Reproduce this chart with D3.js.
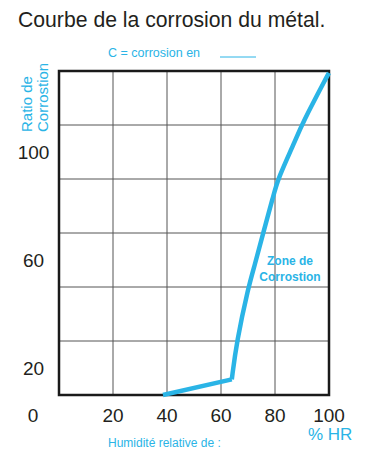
<!DOCTYPE html>
<html>
<head>
<meta charset="utf-8">
<script src="https://cdn.jsdelivr.net/npm/d3@7"></script>
<style>
  body { margin: 0; background: #fff; }
  text { font-family: "Liberation Sans", Arial, sans-serif; }
</style>
</head>
<body>
<div id="chart"></div>
<script>
// values
const xTicks = [20, 40, 60, 80, 100];
const yTicks = [20, 60, 100];
const xGrid = [0, 20, 40, 60, 80, 100];
const yGrid = [10, 30, 50, 70, 90, 110, 130];

// flat part, up to the knee
const baseX = [38.5, 64];
const baseY = [10, 15.8];
// steep part, from the knee
const riseX = [64, 65.8, 70.1, 72.5, 75.6, 79.5, 81.0, 87.6, 89.8, 99.5, 100];
const riseY = [15.8, 29.7, 49.9, 58.1, 69.9, 84.1, 89.9, 104.4, 110, 128.5, 129.3];

const width = 370, height = 459;
const blue = '#2ab4e6';
const ink = '#231f20';

const svg = d3.select('#chart').append('svg')
    .attr('width', width)
    .attr('height', height);

const x = d3.scaleLinear().domain([0, 100]).range([59, 329]);
const y = d3.scaleLinear().domain([10, 130]).range([395, 71]);

// title
svg.append('text')
    .attr('x', 18).attr('y', 27)
    .attr('font-size', 21.2)
    .attr('fill', ink)
    .text('Courbe de la corrosion du métal.');

// legend
svg.append('text')
    .attr('x', 108).attr('y', 57)
    .attr('font-size', 12.5)
    .attr('fill', blue)
    .text('C = corrosion en');
svg.append('line')
    .attr('x1', 220).attr('x2', 256)
    .attr('y1', 57).attr('y2', 57)
    .attr('stroke', blue).attr('stroke-width', 1);

// grid
const grid = svg.append('g').attr('stroke', '#555').attr('stroke-width', 1);
grid.selectAll('.gx').data(xGrid).join('line')
    .attr('x1', d => x(d)).attr('x2', d => x(d))
    .attr('y1', y(10)).attr('y2', y(130));
grid.selectAll('.gy').data(yGrid).join('line')
    .attr('x1', x(0)).attr('x2', x(100))
    .attr('y1', d => y(d)).attr('y2', d => y(d));

// frame
svg.append('rect')
    .attr('x', x(0)).attr('y', y(130))
    .attr('width', x(100) - x(0)).attr('height', y(10) - y(130))
    .attr('fill', 'none').attr('stroke', '#1a1a1a').attr('stroke-width', 2.5);

// curve
const base = baseX.map((d, i) => [d, baseY[i]]);
const rise = riseX.map((d, i) => [d, riseY[i]]);
svg.append('path')
    .attr('d', d3.line().x(d => x(d[0])).y(d => y(d[1]))(base))
    .attr('fill', 'none').attr('stroke', blue).attr('stroke-width', 4.5);
svg.append('path')
    .attr('d', d3.line().curve(d3.curveBasis).x(d => x(d[0])).y(d => y(d[1]))(rise))
    .attr('fill', 'none').attr('stroke', blue).attr('stroke-width', 4.5)
    .attr('stroke-linejoin', 'round');

// y tick labels (centred in the rows)
svg.append('g').selectAll('text').data(yTicks).join('text')
    .attr('x', 33.5).attr('y', d => y(d) + 7)
    .attr('text-anchor', 'middle')
    .attr('font-size', 19)
    .attr('fill', ink)
    .text(d => d);

// x tick labels
svg.append('g').selectAll('text').data(xTicks).join('text')
    .attr('x', d => x(d)).attr('y', 422)
    .attr('text-anchor', 'middle')
    .attr('font-size', 19)
    .attr('fill', ink)
    .text(d => d);
svg.append('text')
    .attr('x', 33).attr('y', 422)
    .attr('text-anchor', 'middle')
    .attr('font-size', 19)
    .attr('fill', ink)
    .text('0');

// y axis title
const yt = svg.append('g').attr('fill', blue).attr('font-size', 15);
yt.append('text')
    .attr('transform', 'translate(32,132) rotate(-90)')
    .text('Ratio de');
yt.append('text')
    .attr('transform', 'translate(48,132) rotate(-90)')
    .text('Corrostion');

// x axis titles
svg.append('text')
    .attr('x', 308).attr('y', 440)
    .attr('font-size', 17)
    .attr('fill', blue)
    .text('% HR');
svg.append('text')
    .attr('x', 108).attr('y', 447)
    .attr('font-size', 12)
    .attr('fill', blue)
    .text('Humidité relative de :');

// zone label
const zone = svg.append('g')
    .attr('fill', blue).attr('font-size', 12).attr('font-weight', 'bold')
    .attr('text-anchor', 'middle');
zone.append('text').attr('x', 290).attr('y', 265).text('Zone de');
zone.append('text').attr('x', 290).attr('y', 281).text('Corrostion');
</script>
</body>
</html>
